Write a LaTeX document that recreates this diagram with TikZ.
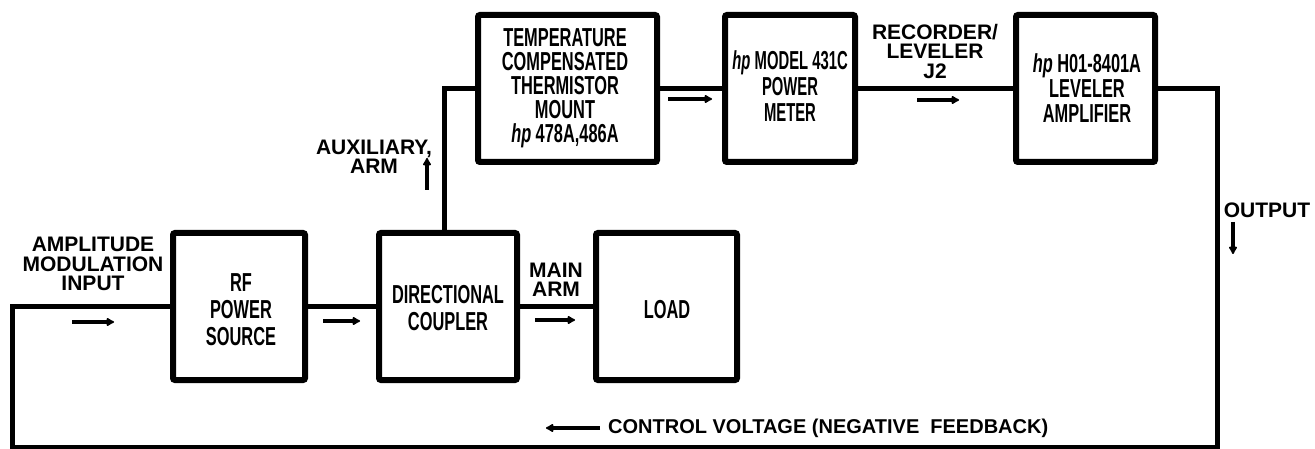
\documentclass[tikz,border=0pt]{standalone}
\usepackage{fontspec}
\setmainfont{Liberation Sans}
\newfontfamily\boxfont{Liberation Sans}[UprightFont={* Bold},ItalicFont={* Bold Italic},FakeStretch=0.63]
\newfontfamily\boxfontn{Liberation Sans}[UprightFont={* Bold},ItalicFont={* Bold Italic},FakeStretch=0.57]
\newfontfamily\lblfont{Liberation Sans}[UprightFont={* Bold},ItalicFont={* Bold Italic}]
\usetikzlibrary{arrows.meta}
\newcommand{\hplogo}{{\itshape hp}\,}
\begin{document}
\begin{tikzpicture}[x=1pt,y=-1pt,
  blk/.style={draw,line width=6pt,rounded corners=2pt,inner sep=0pt,align=center,
     font=\boxfont\fontsize{26}{24}\selectfont},
  lbl/.style={align=center,inner sep=0pt,font=\lblfont\fontsize{21}{19.5}\selectfont},
  wire/.style={line width=5pt,line join=miter},
  flow/.style={line width=4pt,-{Latex[length=9pt,width=10pt,round]}}]
\useasboundingbox (0,0) rectangle (1315,449);
% blocks
\node[blk,minimum width=132pt,minimum height=147pt] (rf) at (239,306.5) {};
\node[blk,minimum width=138pt,minimum height=147pt] (dc) at (448,306.5) {};
\node[blk,minimum width=141pt,minimum height=147pt] (load) at (666.5,306.5) {};
\node[blk,minimum width=179pt,minimum height=147pt] (th) at (567.5,88.5) {};
\node[blk,minimum width=130pt,minimum height=147pt] (pm) at (790,88.5) {};
\node[blk,minimum width=139pt,minimum height=147pt] (lev) at (1085.5,88.5) {};
% block texts
\node[blk,draw=none,font=\boxfont\fontsize{26}{27}\selectfont] (rft) at (241,310) {RF\\POWER\\SOURCE};
\node[blk,draw=none,font=\boxfont\fontsize{26}{27}\selectfont] (dct) at (448,308) {DIRECTIONAL\\COUPLER};
\node[blk,draw=none] (loadt) at (667,310) {LOAD};
\node[blk,draw=none] (tht) at (565,88) {TEMPERATURE\\COMPENSATED\\THERMISTOR\\MOUNT\\\hplogo 478A,486A};
\node[blk,draw=none,font=\boxfontn\fontsize{26}{26}\selectfont] (pmt) at (790,86) {\hplogo MODEL 431C\\POWER\\METER};
\node[blk,draw=none,font=\boxfont\fontsize{26}{25}\selectfont] (levt) at (1087,88) {\hplogo H01-8401A\\LEVELER\\AMPLIFIER};
% connectors
\coordinate (br) at (1217,447);
\coordinate (bl) at (12,447);
\draw[wire] (lev.east) -| (br) -- (bl) |- (rf.west);
\draw[wire] (rf.east) -- (dc.west);
\draw[wire] (dc.east) -- (load.west);
\draw[wire] ([xshift=-4pt]dc.north) |- (th.west);
\draw[wire] (th.east) -- (pm.west);
\draw[wire] (pm.east) -- (lev.west);
% flow arrows
\draw[flow] (72,322) -- (114,322);
\draw[flow] (323,321) -- (360,321);
\draw[flow] (535,320) -- (575,320);
\draw[flow] (668,99) -- (712,99);
\draw[flow] (917,100) -- (959,100);
\draw[flow] (427,190) -- (427,158);
\draw[flow] (1233,222) -- (1233,254);
\draw[flow] (600,428) -- (546,428);
% labels
\node[lbl] (amp) at (93,264) {AMPLITUDE\\MODULATION\\INPUT};
\node[lbl] (aux) at (374,157) {AUXILIARY,\\ARM};
\node[lbl] (main) at (556,280) {MAIN\\ARM};
\node[lbl] (rec) at (935,51) {RECORDER/\\LEVELER\\J2};
\node[lbl] (out) at (1267,210) {OUTPUT};
\node[lbl,anchor=west,font=\lblfont\fontsize{20}{20}\selectfont] (ctl) at (608,428) {CONTROL VOLTAGE (NEGATIVE\ \ FEEDBACK)};
\end{tikzpicture}
\end{document}
